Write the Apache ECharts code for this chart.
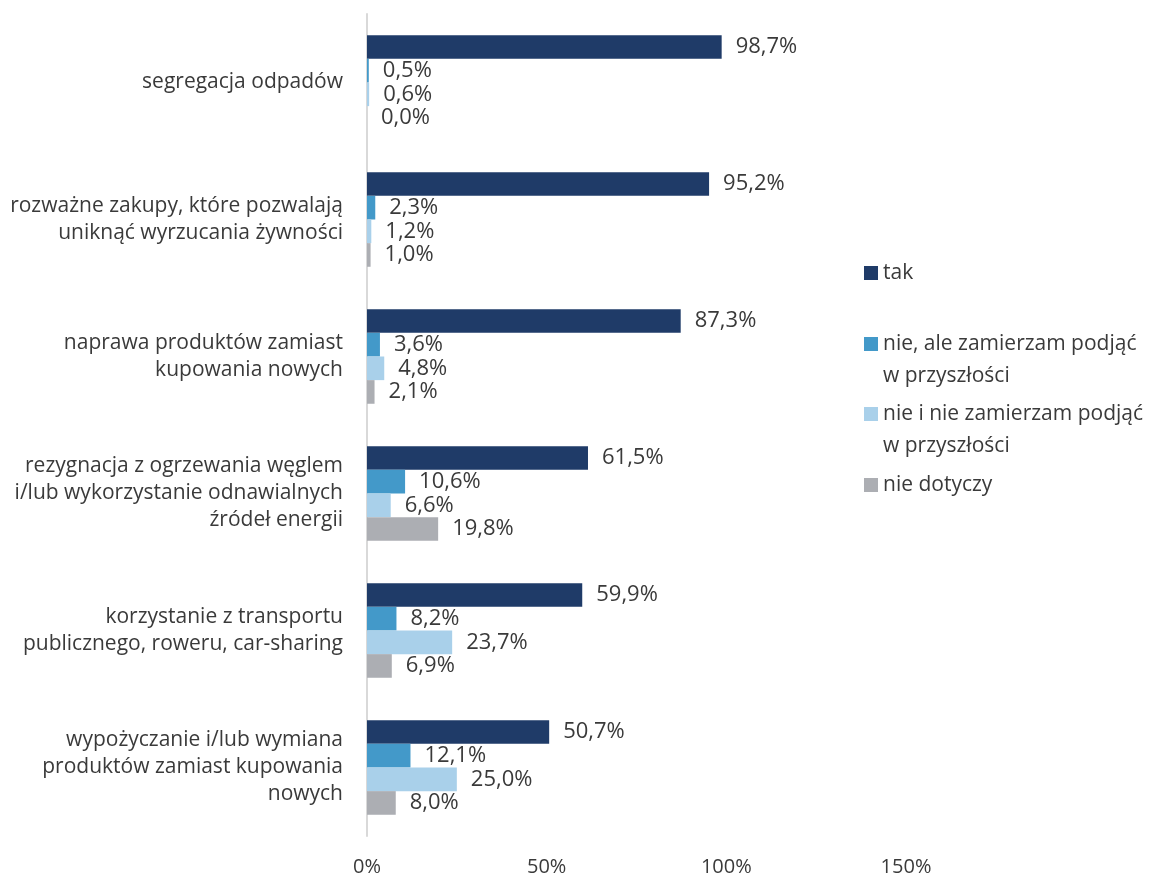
<!DOCTYPE html>
<html><head><meta charset="utf-8">
<script src="https://cdn.jsdelivr.net/npm/echarts@6/dist/echarts.min.js"></script>
<style>html,body{margin:0;padding:0;background:#fff}#c{width:1150px;height:877px}</style>
</head><body><div id="c"></div>
<script>
const categories = [
  'segregacja odpadów',
  'rozważne zakupy, które pozwalają\nuniknąć wyrzucania żywności',
  'naprawa produktów zamiast\nkupowania nowych',
  'rezygnacja z ogrzewania węglem\ni/lub wykorzystanie odnawialnych\nźródeł energii',
  'korzystanie z transportu\npublicznego, roweru, car-sharing',
  'wypożyczanie i/lub wymiana\nproduktów zamiast kupowania\nnowych'
];
const seriesNames = ['tak', 'nie, ale zamierzam podjąć w przyszłości', 'nie i nie zamierzam podjąć w przyszłości', 'nie dotyczy'];
const legendTexts = ['tak', 'nie, ale zamierzam podjąć\nw przyszłości', 'nie i nie zamierzam podjąć\nw przyszłości', 'nie dotyczy'];
const tak = [98.7, 95.2, 87.3, 61.5, 59.9, 50.7];
const nieAle = [0.5, 2.3, 3.6, 10.6, 8.2, 12.1];
const nieINie = [0.6, 1.2, 4.8, 6.6, 23.7, 25.0];
const nieDotyczy = [0.0, 1.0, 2.1, 19.8, 6.9, 8.0];
const xTicks = [0, 50, 100, 150];

const colors = ['#1f3b68', '#4399c9', '#a9d0ea', '#acaeb3'];
const FONT = 'Open Sans';
const TXT = '#3a3a3a';
const values = [tak, nieAle, nieINie, nieDotyczy];

const series = seriesNames.map((n, i) => ({
  name: n, type: 'bar', data: values[i],
  barGap: '0%', barCategoryGap: '31%',
  itemStyle: { color: colors[i] },
  label: { show: true, position: 'right', distance: 14, fontFamily: FONT, fontSize: 22, color: TXT,
    formatter: p => p.value.toFixed(1).replace('.', ',') + '%' }
}));

const legendTops = [257, 296, 366, 469];
const legends = seriesNames.map((n, i) => ({
  data: [n], orient: 'vertical', left: 864, top: legendTops[i], padding: 0,
  itemWidth: 14, itemHeight: 14, icon: 'rect', itemGap: 0,
  textStyle: { fontFamily: FONT, fontSize: 21, color: TXT, lineHeight: 32 },
  formatter: () => legendTexts[i].includes('\n') ? ' \n' + legendTexts[i] : legendTexts[i]
}));

const chart = echarts.init(document.getElementById('c'), null, { renderer: 'canvas' });
chart.setOption({
  animation: false,
  backgroundColor: '#ffffff',
  legend: legends,
  grid: { left: 367, right: 244, top: 14, bottom: 41, containLabel: false },
  xAxis: {
    type: 'value', min: xTicks[0], max: xTicks[xTicks.length - 1], interval: 50,
    axisLine: { show: false }, axisTick: { show: false }, splitLine: { show: false },
    axisLabel: { formatter: '{value}%', fontFamily: FONT, fontSize: 20, color: TXT, margin: 21 }
  },
  yAxis: {
    type: 'category', data: categories, inverse: true,
    axisLine: { show: true, lineStyle: { color: '#d9d9d9', width: 2 } },
    axisTick: { show: false },
    axisLabel: { fontFamily: FONT, fontSize: 21, color: TXT, lineHeight: 27, margin: 24, align: 'right' }
  },
  series: series
});
</script></body></html>
